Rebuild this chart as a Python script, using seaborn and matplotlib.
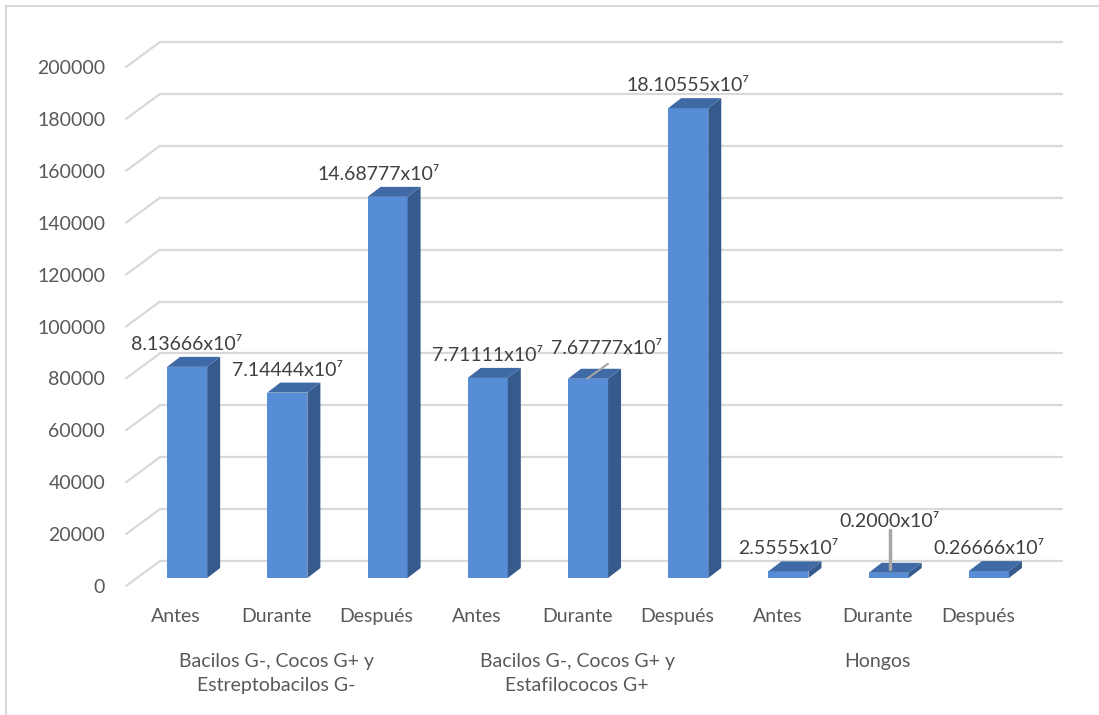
import matplotlib
matplotlib.use("Agg")
import matplotlib.pyplot as plt
import matplotlib.transforms as mtransforms
from matplotlib.patches import Polygon, Rectangle
import seaborn as sns
import pandas as pd
import numpy as np

# ---- data -------------------------------------------------------------
categories = ["Antes", "Durante", "Después"] * 3
groups = [
    "Bacilos G-, Cocos G+ y\nEstreptobacilos G-",
    "Bacilos G-, Cocos G+ y\nEstafilococos G+",
    "Hongos",
]
values = [81366.6, 71444.4, 146877.7, 77111.1, 76777.7, 181055.5, 2555.5, 2000.0, 2666.6]
value_labels = [
    "8.13666x10⁷", "7.14444x10⁷", "14.68777x10⁷",
    "7.71111x10⁷", "7.67777x10⁷", "18.10555x10⁷",
    "2.5555x10⁷", "0.2000x10⁷", "0.26666x10⁷",
]
y_ticks = list(range(0, 200001, 20000))

# ---- style ------------------------------------------------------------
sns.set_style("white")
plt.rcParams["font.family"] = ["Lato", "DejaVu Sans"]

FRONT = "#578CD6"
SIDE = "#355A8C"
TOP = "#3F6AA6"
GRID = "#D9D9D9"
TICK_TXT = "#595959"
LBL_TXT = "#404040"
FS = 14

W, H, DPI = 1099, 715, 100
fig = plt.figure(figsize=(W / DPI, H / DPI), dpi=DPI)
fig.patch.set_facecolor("white")

# plot area (front plane of the 3-D box) in pixels
left, right, bottom, top = 126, 1028, 586, 67
ax = fig.add_axes([left / W, (H - bottom) / H, (right - left) / W, (bottom - top) / H])
n = len(values)
ax.set_xlim(-0.5, n - 0.5)
ax.set_ylim(0, 200000)

px_x = (right - left) / n          # pixels per category
px_y = (bottom - top) / 200000     # pixels per unit

def dxd(px):
    return px / px_x

def dyd(px):
    return px / px_y

# depth offsets in pixels
WALL = (34, 25)      # back wall relative to front plane
BAR_FRONT = (11, 8)  # bar front face relative to front plane
BAR_DEPTH = (13, 10) # bar thickness

# ---- back wall gridlines and side-wall diagonals ----------------------
for t in y_ticks:
    ax.plot([-0.5 + dxd(WALL[0]), n - 0.5 + dxd(WALL[0])],
            [t + dyd(WALL[1])] * 2, color=GRID, lw=1.6, clip_on=False, zorder=1)
    ax.plot([-0.5, -0.5 + dxd(WALL[0])], [t, t + dyd(WALL[1])],
            color=GRID, lw=1.6, clip_on=False, zorder=1)

# ---- bars (front faces) -----------------------------------------------
df = pd.DataFrame({"slot": np.arange(n), "value": values})
sns.barplot(data=df, x="slot", y="value", color=FRONT, width=0.4,
            saturation=1, ax=ax, zorder=3)
ax.set_xlim(-0.5, n - 0.5)
ax.set_ylim(0, 200000)

front_tr = mtransforms.offset_copy(ax.transData, fig=fig,
                                   x=BAR_FRONT[0], y=BAR_FRONT[1], units="dots")
ddx, ddy = dxd(BAR_DEPTH[0]), dyd(BAR_DEPTH[1])
for p in ax.patches:
    p.set_transform(front_tr)
    p.set_clip_on(False)
    p.set_edgecolor("none")
    x0, w, h = p.get_x(), p.get_width(), p.get_height()
    x1 = x0 + w
    side = Polygon([(x1, 0), (x1, h), (x1 + ddx, h + ddy), (x1 + ddx, ddy)],
                   closed=True, facecolor=SIDE, edgecolor="none",
                   transform=front_tr, clip_on=False, zorder=3)
    topf = Polygon([(x0, h), (x1, h), (x1 + ddx, h + ddy), (x0 + ddx, h + ddy)],
                   closed=True, facecolor=TOP, edgecolor="none",
                   transform=front_tr, clip_on=False, zorder=3)
    ax.add_patch(side)
    ax.add_patch(topf)

# ---- data labels ------------------------------------------------------
label_offsets = [(11, 25)] * n
label_offsets[2] = (2, 25)
label_offsets[4] = (29, 33)
label_offsets[7] = (12, 54)
for i, (v, txt) in enumerate(zip(values, value_labels)):
    ox, oy = label_offsets[i]
    ax.annotate(txt, xy=(i, v), xytext=(ox, oy), textcoords="offset pixels",
                ha="center", va="baseline", fontsize=FS, color=LBL_TXT,
                zorder=5, annotation_clip=False)

# leader lines for the two displaced labels
ax.plot([4 + dxd(10), 4 + dxd(31)], [values[4] + dyd(8), values[4] + dyd(23)],
        color="#A6A6A6", lw=1.5, clip_on=False, zorder=4)
ax.plot([7 + dxd(12), 7 + dxd(12)], [values[7] + dyd(12), values[7] + dyd(51)],
        color="#A6A6A6", lw=2.5, clip_on=False, zorder=4)

# ---- axes text --------------------------------------------------------
ax.set_yticks(y_ticks)
ax.set_yticklabels([str(t) for t in y_ticks], fontsize=FS, color=TICK_TXT)
ax.set_xticks(range(n))
ax.set_xticklabels(categories, fontsize=FS, color=TICK_TXT)
ax.tick_params(axis="y", length=0, pad=15)
ax.tick_params(axis="x", length=0, pad=16)
ax.set_xlabel("")
ax.set_ylabel("")
ax.grid(False)
for s in ax.spines.values():
    s.set_visible(False)
ax.set_facecolor("none")

for g, name in enumerate(groups):
    ax.annotate(name, xy=(g * 3 + 1, 0), xytext=(0, -67), textcoords="offset pixels",
                ha="center", va="top", fontsize=FS, color=TICK_TXT,
                linespacing=1.5, annotation_clip=False)

# chart frame
fig.add_artist(Rectangle((6 / W, -0.1), 1.2, (H - 6) / H + 0.1,
                         transform=fig.transFigure, fill=False,
                         edgecolor=GRID, lw=1.5))

fig.savefig("out.png", dpi=DPI)
